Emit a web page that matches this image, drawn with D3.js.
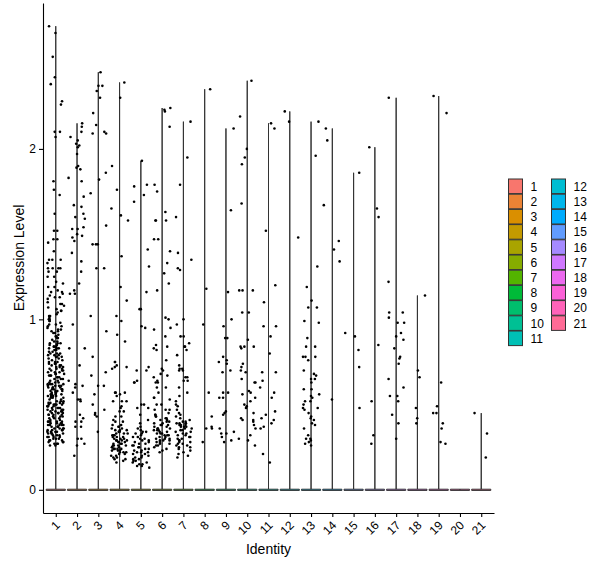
<!DOCTYPE html>
<html>
<head>
<meta charset="utf-8">
<script src="https://cdn.jsdelivr.net/npm/d3@7"></script>
<style>
  body { margin: 0; background: #fff; }
  text { font-family: "Liberation Sans", Arial, sans-serif; fill: #000; }
</style>
</head>
<body>
<script>
// identities (x categories) and y ticks
const identities = d3.range(1, 22).map(String);
const yTicks = [0, 1, 2];

// non-zero expression values per identity (zeros make the flat bar at 0)
const id1 = [2.72, 2.68, 2.54, 2.42, 2.38, 2.28, 2.26, 2.10, 2.10, 2.07, 1.81, 1.76, 1.73, 1.62, 1.52, 1.52,
  1.47, 1.47, 1.45, 1.40, 1.35, 1.35, 1.35, 1.33, 1.30, 1.30, 1.30, 1.30, 1.28, 1.28, 1.25, 1.25,
  1.22, 1.19, 1.19, 1.17, 1.16, 1.16, 1.14, 1.13, 1.13, 1.12, 1.21, 1.15,
  1.10, 1.09, 1.09, 1.08, 1.07, 1.05, 1.05, 1.04, 1.03, 1.02, 1.02, 1.01, 1.00, 1.00, 1.06,
  0.99, 0.99, 0.98, 0.97, 0.96, 0.96, 0.95, 0.94, 0.94, 0.93, 0.92, 0.92, 0.91, 0.90, 0.90, 0.89, 0.89, 0.88, 0.97, 0.93,
  0.87, 0.87, 0.86, 0.86, 0.85, 0.85, 0.84, 0.84, 0.84, 0.83, 0.83, 0.82, 0.82, 0.81, 0.81, 0.80, 0.80, 0.80, 0.79, 0.79,
  0.78, 0.78, 0.78, 0.77, 0.77, 0.76, 0.76, 0.86, 0.83, 0.79,
  0.75, 0.75, 0.75, 0.74, 0.74, 0.73, 0.73, 0.73, 0.72, 0.72, 0.72, 0.71, 0.71, 0.70, 0.70, 0.70, 0.69, 0.69, 0.68, 0.68,
  0.68, 0.67, 0.67, 0.66, 0.66, 0.66, 0.65, 0.65, 0.64, 0.64, 0.74, 0.71, 0.69, 0.67, 0.65,
  0.63, 0.63, 0.63, 0.62, 0.62, 0.62, 0.61, 0.61, 0.61, 0.60, 0.60, 0.60, 0.60, 0.59, 0.59, 0.59, 0.58, 0.58, 0.58, 0.57,
  0.57, 0.57, 0.56, 0.56, 0.56, 0.55, 0.55, 0.55, 0.54, 0.54, 0.54, 0.53, 0.53, 0.62, 0.59, 0.57, 0.56, 0.61, 0.58, 0.55,
  0.52, 0.52, 0.52, 0.51, 0.51, 0.51, 0.50, 0.50, 0.50, 0.50, 0.49, 0.49, 0.49, 0.48, 0.48, 0.48, 0.47, 0.47, 0.47, 0.46,
  0.46, 0.46, 0.45, 0.45, 0.45, 0.44, 0.44, 0.44, 0.43, 0.43, 0.43, 0.42, 0.42, 0.42, 0.41, 0.41, 0.51, 0.49, 0.47, 0.45,
  0.43, 0.50, 0.48, 0.46, 0.44,
  0.40, 0.40, 0.40, 0.40, 0.39, 0.39, 0.39, 0.38, 0.38, 0.38, 0.38, 0.37, 0.37, 0.37, 0.36, 0.36, 0.36, 0.35, 0.35, 0.35,
  0.34, 0.34, 0.34, 0.33, 0.33, 0.33, 0.32, 0.32, 0.32, 0.31, 0.31, 0.31, 0.30, 0.30, 0.29, 0.39, 0.37, 0.35, 0.33, 0.31,
  0.40, 0.38, 0.36, 0.34, 0.30,
  0.29, 0.28, 0.28, 0.27, 0.27, 0.27, 0.26, 0.26, 0.28, 0.29];
const id2 = [2.15, 2.13, 2.10, 2.07, 2.05, 2.03, 2.02, 2.01, 1.97, 1.90, 1.89, 1.88, 1.83, 1.81, 1.72, 1.67, 1.66, 1.62,
  1.60, 1.59, 1.54, 1.53, 1.53, 1.50, 1.49, 1.48, 1.46, 1.39, 1.34, 1.28, 1.21, 1.17, 1.15, 1.15, 0.97, 0.83, 0.83, 0.73,
  0.64, 0.62, 0.61, 0.60, 0.57, 0.53, 0.53, 0.52, 0.44, 0.42, 0.40, 0.40, 0.37, 0.37, 0.30, 0.30, 0.27, 0.26, 0.20];
const id3 = [2.45, 2.37, 2.37, 2.34, 2.30, 2.21, 2.14, 2.10, 2.09, 2.09, 1.86, 1.82, 1.74, 1.55, 1.44, 1.44, 1.44, 1.30,
  1.30, 1.02, 0.93, 0.78, 0.69, 0.67, 0.61, 0.61, 0.56, 0.50, 0.47, 0.45, 0.44, 0.43, 0.34];
const id4 = [2.39, 2.30, 1.90, 1.76, 1.65, 1.61, 1.58, 1.37, 1.19,
  1.11, 1.02, 0.99, 0.91, 0.87, 0.75, 0.75, 0.73, 0.72, 0.72, 0.71, 0.57, 0.57, 0.57, 0.56, 0.55, 0.52, 0.52, 0.52, 0.49,
  0.48, 0.46, 0.46, 0.43, 0.43, 0.41, 0.40, 0.40,
  0.38, 0.38, 0.37, 0.37, 0.36, 0.36, 0.35, 0.35, 0.35, 0.34, 0.34, 0.33, 0.33, 0.33, 0.32, 0.32, 0.31, 0.31, 0.31, 0.30,
  0.30, 0.30, 0.29, 0.29, 0.29, 0.28, 0.28, 0.28, 0.27, 0.27, 0.27, 0.26, 0.26, 0.26, 0.25, 0.25, 0.25, 0.24, 0.24, 0.24,
  0.23, 0.23, 0.23, 0.22, 0.22, 0.22, 0.21, 0.21, 0.20, 0.20, 0.19, 0.19, 0.18, 0.18, 0.17, 0.16, 0.24, 0.26, 0.29, 0.32];
const id5 = [1.93, 1.79, 1.78, 1.73, 1.69, 1.41, 1.31, 1.16,
  1.06, 1.06, 0.96, 0.95, 0.72, 0.70, 0.70, 0.64, 0.63, 0.63, 0.50, 0.50, 0.48, 0.48, 0.44, 0.41, 0.39, 0.37,
  0.36, 0.35, 0.34, 0.34, 0.33, 0.33, 0.32, 0.31, 0.31, 0.30, 0.30, 0.29, 0.29, 0.28, 0.28, 0.27, 0.27, 0.26, 0.26, 0.25,
  0.25, 0.24, 0.24, 0.23, 0.23, 0.22, 0.22, 0.21, 0.21, 0.20, 0.20, 0.19, 0.19, 0.18, 0.18, 0.17, 0.17, 0.16, 0.16, 0.15,
  0.15, 0.14, 0.14, 0.13, 0.22];
const id6 = [2.24, 2.23, 2.22, 2.13, 1.79, 1.75, 1.63, 1.58, 1.58, 1.58, 1.47, 1.47, 1.40, 1.33, 1.27,
  1.21, 1.17, 1.01, 1.00, 0.95, 0.94, 0.90, 0.85, 0.84, 0.83, 0.82, 0.76, 0.71, 0.70, 0.68, 0.67, 0.66, 0.64, 0.63, 0.63,
  0.60, 0.60, 0.57, 0.54, 0.54, 0.53, 0.50, 0.50, 0.47, 0.47, 0.47,
  0.45, 0.44, 0.44, 0.43, 0.43, 0.42, 0.42, 0.41, 0.41, 0.40, 0.40, 0.39, 0.39, 0.38, 0.38, 0.38, 0.37, 0.37, 0.36, 0.36,
  0.35, 0.35, 0.35, 0.34, 0.34, 0.33, 0.33, 0.32, 0.32, 0.32, 0.31, 0.31, 0.30, 0.30, 0.30, 0.29, 0.29, 0.28, 0.28, 0.27,
  0.27, 0.26, 0.26, 0.25, 0.24, 0.23, 0.22, 0.36, 0.33, 0.29];
const id7 = [2.16, 1.95, 1.79, 1.60, 1.39, 1.35, 1.30, 1.29,
  1.00, 0.97, 0.90, 0.90, 0.86, 0.84, 0.84, 0.82, 0.79, 0.73, 0.71, 0.71, 0.70, 0.70, 0.66, 0.66, 0.64, 0.64, 0.60, 0.57,
  0.55, 0.52, 0.50, 0.49, 0.47,
  0.45, 0.44, 0.43, 0.42, 0.41, 0.40, 0.40, 0.39, 0.39, 0.39, 0.38, 0.38, 0.38, 0.37, 0.37, 0.36, 0.36, 0.35, 0.35, 0.34,
  0.34, 0.33, 0.33, 0.32, 0.32, 0.31, 0.31, 0.30, 0.30, 0.29, 0.29, 0.28, 0.28, 0.27, 0.27, 0.26, 0.26, 0.25, 0.25, 0.24,
  0.23, 0.22, 0.21, 0.20, 0.19, 0.39, 0.38, 0.37];
const id8 = [2.35, 1.18, 0.97, 0.57, 0.43, 0.37, 0.36, 0.36, 0.28];
const id9 = [2.12, 1.64, 1.16, 1.00, 0.96, 0.89, 0.89, 0.78, 0.76, 0.75, 0.74, 0.70, 0.69, 0.57, 0.57, 0.54, 0.54, 0.46,
  0.45, 0.44, 0.36, 0.34, 0.33, 0.33, 0.31, 0.29, 0.28];
const id10 = [2.40, 2.19, 2.00, 1.95, 1.91, 1.68, 1.17, 1.17, 1.17, 1.04, 1.04, 0.88, 0.84, 0.84, 0.84, 0.83, 0.74, 0.72,
  0.70, 0.69, 0.65, 0.63, 0.63, 0.58, 0.57, 0.56, 0.54, 0.52, 0.50, 0.49, 0.48, 0.45, 0.42, 0.41, 0.41, 0.40, 0.38, 0.36,
  0.32, 0.30, 0.29, 0.26];
const id11 = [2.15, 2.12, 1.52, 1.20, 1.10, 0.96, 0.96, 0.90, 0.80, 0.69, 0.69, 0.64, 0.60, 0.57, 0.54, 0.46, 0.44, 0.42,
  0.41, 0.39, 0.37, 0.36, 0.21, 0.16];
const id12 = [2.22, 2.16, 1.48];
const id13 = [2.16, 1.96, 1.31, 1.19, 1.11, 1.07, 1.07, 0.99, 0.98, 0.89, 0.84, 0.84, 0.78, 0.78, 0.78, 0.76, 0.70, 0.68,
  0.67, 0.65, 0.65, 0.63, 0.59, 0.59, 0.56, 0.55, 0.54, 0.52, 0.52, 0.50, 0.48, 0.47, 0.48, 0.45, 0.43, 0.42, 0.41, 0.39,
  0.38, 0.36, 0.32, 0.30, 0.29, 0.30, 0.27, 0.28, 0.26];
const id14 = [2.12, 2.05, 1.67, 1.46, 1.41, 1.34, 0.53];
const id15 = [1.86, 0.92, 0.90, 0.82, 0.72, 0.48];
const id16 = [2.01, 1.65, 1.60, 0.85, 0.52, 0.32, 0.27];
const id17 = [2.30, 1.22, 1.04, 1.04, 1.01, 0.98, 0.98, 0.92, 0.90, 0.88, 0.83, 0.78, 0.77, 0.74, 0.65, 0.60, 0.55, 0.55,
  0.52, 0.44, 0.39, 0.30];
const id18 = [1.14, 0.70, 0.66, 0.48, 0.42, 0.39];
const id19 = [2.31, 2.21, 0.63, 0.49, 0.45, 0.45, 0.39, 0.36, 0.28, 0.27];
const id20 = [];
const id21 = [0.45, 0.33, 0.19];

const expression = [id1, id2, id3, id4, id5, id6, id7, id8, id9, id10, id11,
  id12, id13, id14, id15, id16, id17, id18, id19, id20, id21];

const width = 600, height = 568;
const panel = { left: 43, right: 494, top: 3, bottom: 513 };

// ggplot2 hue_pal colours (polar LUV -> sRGB, like R's hcl())
function hclR(h, c, l) {
  const hr = h * Math.PI / 180;
  const U = c * Math.cos(hr), V = c * Math.sin(hr);
  const Xn = 95.047, Yn = 100, Zn = 108.883;
  const Y = Yn * (l > 7.999592 ? Math.pow((l + 16) / 116, 3) : l / 903.3);
  const den = Xn + 15 * Yn + 3 * Zn;
  const un = 4 * Xn / den, vn = 9 * Yn / den;
  const u = U / (13 * l) + un, v = V / (13 * l) + vn;
  const X = 9 * Y * u / (4 * v);
  const Z = -X / 3 - 5 * Y + 3 * Y / v;
  const x = X / 100, y = Y / 100, z = Z / 100;
  const lin = [
    3.240479 * x - 1.537150 * y - 0.498535 * z,
    -0.969256 * x + 1.875992 * y + 0.041556 * z,
    0.055648 * x - 0.204043 * y + 1.057311 * z
  ];
  const g = lin.map(t => {
    const s = t <= 0.0031308 ? 12.92 * t : 1.055 * Math.pow(t, 1 / 2.4) - 0.055;
    return Math.round(Math.max(0, Math.min(1, s)) * 255);
  });
  return d3.rgb(g[0], g[1], g[2]).formatHex();
}
const n = identities.length;
const colors = identities.map((d, i) => hclR(15 + i * 360 / n, 100, 65));

const svg = d3.select("body").append("svg")
    .attr("width", width)
    .attr("height", height);

const x = d3.scalePoint().domain(identities).range([panel.left, panel.right]).padding(0.6);
const yMax = d3.max(expression.flat());
const y = d3.scaleLinear().domain([-0.05 * yMax, 1.05 * yMax]).range([panel.bottom, panel.top]);

// violins: all the mass sits at zero, so each one is a flat bar plus a hairline up to its max
const hw = x.step() * 0.45;
const violins = svg.append("g");
identities.forEach((id, i) => {
  const cx = x(id), y0 = y(0);
  const top = expression[i].length ? y(d3.max(expression[i])) : y0;
  const p = d3.path();
  p.moveTo(cx - hw, y0 + 0.6);
  p.lineTo(cx + hw, y0 + 0.6);
  p.lineTo(cx + hw, y0 - 0.6);
  p.lineTo(cx, y0 - 0.6);
  p.lineTo(cx, top);
  p.lineTo(cx, y0 - 0.6);
  p.lineTo(cx - hw, y0 - 0.6);
  p.closePath();
  violins.append("path")
      .attr("d", p.toString())
      .attr("fill", colors[i])
      .attr("stroke", "#333")
      .attr("stroke-width", 1);
});

// jittered points (width 0.4 of the category step)
function jitter(c, i) {
  const s = Math.sin((c + 1) * 127.1 + (i + 1) * 311.7) * 43758.5453;
  return (s - Math.floor(s)) * 2 - 1;
}
const pts = [];
identities.forEach((id, c) => {
  expression[c].forEach((v, i) => pts.push({ id, v, dx: jitter(c, i) * 0.4 * x.step() }));
});
svg.append("g").selectAll("circle")
  .data(pts)
  .join("circle")
    .attr("cx", d => x(d.id) + d.dx)
    .attr("cy", d => y(d.v))
    .attr("r", 1.3)
    .attr("fill", "#000");

// axes
const yAxis = svg.append("g")
    .attr("transform", `translate(${panel.left},0)`)
    .call(d3.axisLeft(y).tickValues(yTicks).tickFormat(d3.format("d")).tickSize(4).tickSizeOuter(0).tickPadding(3));
const xAxis = svg.append("g")
    .attr("transform", `translate(0,${panel.bottom})`)
    .call(d3.axisBottom(x).tickSize(4).tickSizeOuter(0));
[yAxis, xAxis].forEach(a => {
  a.select(".domain").attr("stroke", "#000").attr("stroke-width", 1.1);
  a.selectAll(".tick line").attr("stroke", "#000").attr("stroke-width", 1.1);
  a.selectAll("text").attr("font-size", 12).attr("fill", "#000")
    .style("font-family", '"Liberation Sans", Arial, sans-serif');
});
xAxis.selectAll(".tick text")
    .attr("x", 0).attr("y", 0).attr("dy", "0.35em")
    .attr("text-anchor", "end")
    .attr("transform", "translate(1.5,10) rotate(-45)");

svg.append("text")
    .attr("x", (panel.left + panel.right) / 2)
    .attr("y", 554)
    .attr("text-anchor", "middle")
    .attr("font-size", 14)
    .text("Identity");
svg.append("text")
    .attr("transform", `translate(24,${(panel.top + panel.bottom) / 2}) rotate(-90)`)
    .attr("text-anchor", "middle")
    .attr("font-size", 14)
    .text("Expression Level");

// legend, two columns of 11 and 10
const legend = svg.append("g");
const rowH = 15.2, firstRow = 179;
identities.forEach((id, i) => {
  const col = i < 11 ? 0 : 1, row = i < 11 ? i : i - 11;
  const gx = col === 0 ? 508.5 : 551.5;
  const gy = firstRow + row * rowH;
  legend.append("rect")
      .attr("x", gx).attr("y", gy)
      .attr("width", 14).attr("height", rowH - 0.6)
      .attr("fill", colors[i])
      .attr("stroke", "#333")
      .attr("stroke-width", 1);
  legend.append("text")
      .attr("x", gx + 22).attr("y", gy + rowH / 2)
      .attr("dy", "0.35em")
      .attr("font-size", 12)
      .text(id);
});
</script>
</body>
</html>
